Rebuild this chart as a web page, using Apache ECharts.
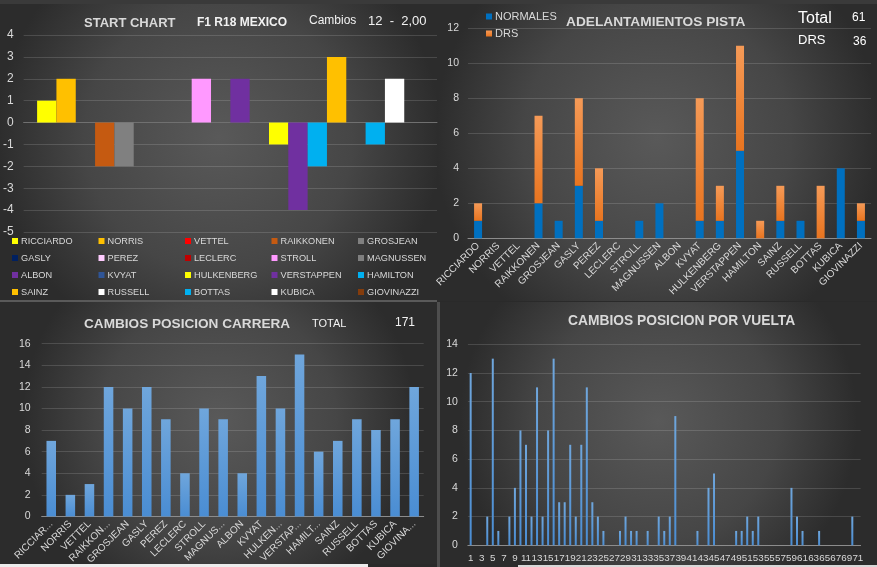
<!DOCTYPE html>
<html>
<head>
<meta charset="utf-8">
<script src="https://cdn.jsdelivr.net/npm/echarts@6/dist/echarts.min.js"></script>
<style>
html,body{margin:0;padding:0;background:#2a2a2a;}
#c{width:877px;height:567px;}
</style>
</head>
<body>
<div id="c"></div>
<script>
// ---------- DATA ----------
const drivers = ['RICCIARDO','NORRIS','VETTEL','RAIKKONEN','GROSJEAN','GASLY','PEREZ','LECLERC','STROLL','MAGNUSSEN','ALBON','KVYAT','HULKENBERG','VERSTAPPEN','HAMILTON','SAINZ','RUSSELL','BOTTAS','KUBICA','GIOVINAZZI'];
const driverColors = ['#FFFF00','#FFC000','#FF0000','#C55A11','#808080','#002060','#FFCCFF','#C00000','#FF99FF','#7F7F7F','#7030A0','#2F5597','#FFFF00','#7030A0','#00B0F0','#FFC000','#FFFFFF','#00B0F0','#FFFFFF','#843C0C'];
const startChange = [1,2,0,-2,-2,0,0,0,2,0,2,0,-1,-4,-2,3,0,-1,2,0];

const normales = [1,0,0,2,1,3,1,0,1,2,0,1,1,5,0,1,1,0,4,1];
const drs      = [1,0,0,5,0,5,3,0,0,0,0,7,2,6,1,2,0,3,0,1];

const raceLabels = ['RICCIAR...','NORRIS','VETTEL','RAIKKON...','GROSJEAN','GASLY','PEREZ','LECLERC','STROLL','MAGNUS...','ALBON','KVYAT','HULKEN...','VERSTAP...','HAMILT...','SAINZ','RUSSELL','BOTTAS','KUBICA','GIOVINA...'];
const raceChanges = [7,2,3,12,10,12,9,4,10,9,4,13,10,15,6,7,9,8,9,12];

const laps = ['1','2','3','4','5','6','7','8','9','10','11','12','13','14','15','16','17','18','19','20','21','22','23','24','25','26','27','28','29','30','31','32','33','34','35','36','37','38','39','40','41','42','43','44','45','46','47','48','49','50','51','52','53','54','55','56','57','58','59','60','61','62','63','64','65','66','67','68','69','70','71'];
const lapChanges = [12,0,0,2,13,1,0,2,4,8,7,2,11,2,8,13,3,3,7,2,7,11,3,2,1,0,0,1,2,1,1,0,1,0,2,1,2,9,0,0,0,1,0,4,5,0,0,0,1,1,2,1,2,0,0,0,0,0,4,2,1,0,0,1,0,0,0,0,0,2,0];

// ---------- STYLE ----------
const FONT = '"Liberation Sans", Arial, sans-serif';
const LBL = '#d9d9d9';
const GRIDC = 'rgba(255,255,255,0.14)';

function panelBg(x,y,w,h){
  return {type:'rect', shape:{x:x,y:y,width:w,height:h}, z:-100, silent:true,
    style:{fill:{type:'radial', x:0.5, y:0.45, r:0.75,
      colorStops:[{offset:0,color:'#595959'},{offset:0.6,color:'#464646'},{offset:1,color:'#2c2c2c'}]}}};
}
function txt(t,x,y,font,fill){
  return {type:'text', x:x, y:y, z:100, silent:true,
    style:{text:t, font:font, fill:fill||LBL, verticalAlign:'middle', align:'left'}};
}

const graphicEls = [
  {type:'rect', shape:{x:0,y:0,width:877,height:567}, z:-200, style:{fill:'#2a2a2a'}},
  panelBg(0,4,437,297),
  panelBg(437,4,440,297),
  panelBg(0,302,437,262),
  panelBg(440,302,437,265),
  {type:'rect', shape:{x:0,y:0,width:877,height:4}, z:-90, style:{fill:'#3a3a3a'}},
  {type:'rect', shape:{x:0,y:300,width:437,height:2}, z:-90, style:{fill:'#5a5a5a'}},
  {type:'rect', shape:{x:437,y:302,width:3,height:265}, z:-90, style:{fill:'#4e4e4e'}},
  {type:'rect', shape:{x:0,y:564,width:368,height:3}, z:-90, style:{fill:'#ececec'}},
  {type:'rect', shape:{x:518,y:565,width:359,height:2}, z:-90, style:{fill:'#d8d8d8'}},
  // TL texts
  txt('START CHART',84,23,'bold 13px '+FONT),
  txt('F1 R18 MEXICO',197,23,'bold 12px '+FONT,'#f2f2f2'),
  txt('Cambios',309,21,'12px '+FONT,'#f2f2f2'),
  txt('12  -  2,00',368,21,'13px '+FONT,'#f2f2f2'),
  // TR texts
  txt('ADELANTAMIENTOS PISTA',566,22,'bold 13.7px '+FONT),
  txt('Total',798,19,'16px '+FONT,'#ffffff'),
  txt('61',852,18,'12px '+FONT,'#ffffff'),
  txt('DRS',798,40,'13px '+FONT,'#ffffff'),
  txt('36',853,42,'12px '+FONT,'#ffffff'),
  // BL texts
  txt('CAMBIOS POSICION CARRERA',84,324,'bold 13.6px '+FONT),
  txt('TOTAL',312,324,'11px '+FONT,'#f2f2f2'),
  txt('171',395,323,'12px '+FONT,'#f2f2f2'),
  // BR texts
  txt('CAMBIOS POSICION POR VUELTA',568,321,'bold 13.8px '+FONT)
];

// TL legends (5 columns x 4 rows)
const colX = [12,98.5,185,271.5,358];
const rowY = [241,258,275,292];
const legends = drivers.map((d,i)=>({
  data:[d], left:colX[i%5], top:rowY[Math.floor(i/5)]-4.5, padding:0,
  itemWidth:6, itemHeight:6, icon:'rect', selectedMode:false,
  textStyle:{color:LBL, fontSize:9.2, fontFamily:FONT, padding:[0,0,0,-2]}
}));
legends.push({data:['NORMALES','DRS'], orient:'vertical', left:486, top:11, padding:0, itemWidth:6, itemHeight:6, itemGap:6, icon:'rect', selectedMode:false,
  textStyle:{color:LBL, fontSize:11, fontFamily:FONT, padding:[0,0,0,-2]}});

const axisLblY = (fs)=>({color:LBL, fontSize:fs, fontFamily:FONT});

const series = drivers.map((d,i)=>({
  type:'bar', name:d, xAxisIndex:0, yAxisIndex:0, data:[startChange[i]],
  barGap:'0%', barCategoryGap:'6.5%',
  itemStyle:{color:driverColors[i]}
}));

series.push({type:'bar', name:'NORMALES', stack:'a', xAxisIndex:1, yAxisIndex:1, data:normales, barWidth:8,
  itemStyle:{color:'#0070C0'}});
series.push({type:'bar', name:'DRS', stack:'a', xAxisIndex:1, yAxisIndex:1, data:drs, barWidth:8,
  itemStyle:{color:{type:'linear',x:0,y:0,x2:0,y2:1,colorStops:[{offset:0,color:'#F59A57'},{offset:1,color:'#E8741F'}]}}});

const blue = {type:'linear',x:0,y:0,x2:0,y2:1,colorStops:[{offset:0,color:'#6FA6DC'},{offset:1,color:'#4A8DD3'}]};
series.push({type:'bar', name:'CARRERA', xAxisIndex:2, yAxisIndex:2, data:raceChanges, barWidth:'50%', itemStyle:{color:blue}});
series.push({type:'bar', name:'VUELTA', xAxisIndex:3, yAxisIndex:3, data:lapChanges, barWidth:2, itemStyle:{color:blue}});

const option = {
  animation:false,
  backgroundColor:'#2a2a2a',
  textStyle:{fontFamily:FONT},
  graphic:{elements:graphicEls},
  legend:legends,
  grid:[
    {left:22, top:35, width:415, height:197},
    {left:468, top:28.3, width:403, height:210},
    {left:41.7, top:343.7, width:382, height:176.6},
    {left:467.9, top:344.3, width:392.7, height:201}
  ],
  xAxis:[
    {type:'category', gridIndex:0, data:[''], axisLine:{onZero:true, lineStyle:{color:'#707070'}}, axisTick:{show:false}, axisLabel:{show:false}},
    {type:'category', gridIndex:1, data:drivers, axisLine:{lineStyle:{color:'#8c8c8c'}}, axisTick:{show:false},
      axisLabel:{interval:0, rotate:45, color:LBL, fontSize:10, fontFamily:FONT, margin:6}},
    {type:'category', gridIndex:2, data:raceLabels, axisLine:{lineStyle:{color:'#8c8c8c'}}, axisTick:{show:false},
      axisLabel:{interval:0, rotate:45, color:LBL, fontSize:10, fontFamily:FONT, margin:6}},
    {type:'category', gridIndex:3, data:laps, axisLine:{lineStyle:{color:'#8c8c8c'}}, axisTick:{show:false},
      axisLabel:{interval:1, color:LBL, fontSize:9.8, fontFamily:FONT, margin:8, hideOverlap:false, showMaxLabel:true, showMinLabel:true}}
  ],
  yAxis:[
    {type:'value', gridIndex:0, min:-5, max:4, interval:1, axisLine:{show:false}, axisTick:{show:false},
      splitLine:{lineStyle:{color:GRIDC}}, axisLabel:Object.assign(axisLblY(12),{margin:10})},
    {type:'value', gridIndex:1, min:0, max:12, interval:2, axisLine:{show:false}, axisTick:{show:false},
      splitLine:{lineStyle:{color:GRIDC}}, axisLabel:Object.assign(axisLblY(10.5),{margin:9})},
    {type:'value', gridIndex:2, min:0, max:16, interval:2, axisLine:{show:false}, axisTick:{show:false},
      splitLine:{lineStyle:{color:GRIDC}}, axisLabel:Object.assign(axisLblY(10.5),{margin:11})},
    {type:'value', gridIndex:3, min:0, max:14, interval:2, axisLine:{show:false}, axisTick:{show:false},
      splitLine:{lineStyle:{color:GRIDC}}, axisLabel:Object.assign(axisLblY(10.5),{margin:10})}
  ],
  series:series
};

const chart = echarts.init(document.getElementById('c'), null, {renderer:'canvas'});
chart.setOption(option);
</script>
</body>
</html>
